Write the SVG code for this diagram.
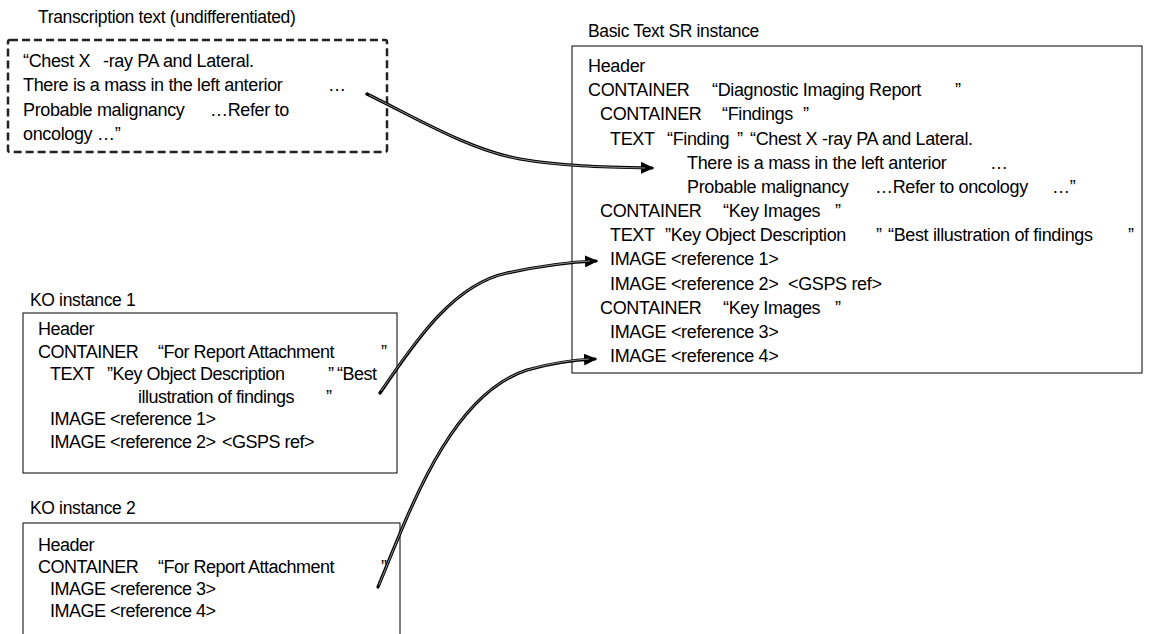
<svg xmlns="http://www.w3.org/2000/svg" width="1151" height="634" viewBox="0 0 1151 634">
  <style>
    text { font-family: "Liberation Sans", Arial, sans-serif; fill: #000; }
    .lbl { font-size: 17.5px; letter-spacing: -0.35px; }
    .big { font-size: 18px; letter-spacing: -0.35px; }
    .ko { font-size: 18px; letter-spacing: -0.5px; }
    .box { fill: #fff; stroke: #000; stroke-width: 1; }
    .dash { fill: #fff; stroke: #222; stroke-width: 2.5; stroke-dasharray: 8 4; }
    .wire { fill: none; stroke: #000; stroke-width: 3.2; stroke-linecap: round; }
    .wire-core { fill: none; stroke: #fff; stroke-width: 0.8; opacity: 0.7; }
  </style>
  <defs>
    <marker id="head" markerUnits="userSpaceOnUse" markerWidth="14" markerHeight="12" refX="11" refY="6" orient="auto">
      <path d="M0,0 L13,6 L0,12 z" fill="#000"/>
    </marker>
  </defs>
  <rect width="1151" height="634" fill="#fff"/>

  <!-- Transcription text -->
  <g id="transcription">
    <text class="lbl" x="38" y="23">Transcription text (undifferentiated)</text>
    <rect class="dash" x="8" y="40" width="379" height="112" rx="2"/>
    <text class="big" y="67"><tspan x="23">“Chest X</tspan><tspan x="103">-ray PA and Lateral.</tspan></text>
    <text class="big" y="91"><tspan x="23">There is a mass in the left anterior</tspan><tspan x="328">…</tspan></text>
    <text class="big" y="116"><tspan x="23">Probable malignancy</tspan><tspan x="210">…Refer to</tspan></text>
    <text class="big" y="140"><tspan x="23">oncology</tspan><tspan x="97">…”</tspan></text>
  </g>

  <!-- Basic Text SR instance -->
  <g id="sr-instance">
    <text class="lbl" x="588" y="37">Basic Text SR instance</text>
    <rect class="box" x="572" y="46" width="570" height="327"/>
    <text class="big" x="588" y="72">Header</text>
    <text class="big" y="96"><tspan x="588">CONTAINER</tspan><tspan x="712">“Diagnostic Imaging Report</tspan><tspan x="955">”</tspan></text>
    <text class="big" y="120"><tspan x="600">CONTAINER</tspan><tspan x="722">“Findings</tspan><tspan x="803">”</tspan></text>
    <text class="big" y="145"><tspan x="610">TEXT</tspan><tspan x="667">“Finding</tspan><tspan x="737">”</tspan><tspan x="750">“Chest X</tspan><tspan x="822">-ray PA and Lateral.</tspan></text>
    <text class="big" y="169"><tspan x="687">There is a mass in the left anterior</tspan><tspan x="990">…</tspan></text>
    <text class="big" y="193"><tspan x="687">Probable malignancy</tspan><tspan x="875">…Refer to oncology</tspan><tspan x="1052">…”</tspan></text>
    <text class="big" y="217"><tspan x="600">CONTAINER</tspan><tspan x="723">“Key Images</tspan><tspan x="835">”</tspan></text>
    <text class="big" y="241"><tspan x="610">TEXT</tspan><tspan x="665">”Key Object Description</tspan><tspan x="876">”</tspan><tspan x="888">“Best illustration of findings</tspan><tspan x="1128">”</tspan></text>
    <text class="big" x="610" y="265">IMAGE &lt;reference 1&gt;</text>
    <text class="big" y="290"><tspan x="610">IMAGE &lt;reference 2&gt;</tspan><tspan x="788">&lt;GSPS ref&gt;</tspan></text>
    <text class="big" y="314"><tspan x="600">CONTAINER</tspan><tspan x="723">“Key Images</tspan><tspan x="835">”</tspan></text>
    <text class="big" x="610" y="338">IMAGE &lt;reference 3&gt;</text>
    <text class="big" x="610" y="362">IMAGE &lt;reference 4&gt;</text>
  </g>

  <!-- Key Object instance 1 -->
  <g id="ko-instance-1">
    <text class="lbl" x="30" y="306">KO instance 1</text>
    <rect class="box" x="23" y="313" width="374" height="160"/>
    <text class="ko" x="38" y="335">Header</text>
    <text class="ko" y="357.5"><tspan x="38">CONTAINER</tspan><tspan x="158">“For Report Attachment</tspan><tspan x="381">”</tspan></text>
    <text class="ko" y="380"><tspan x="50">TEXT</tspan><tspan x="107">”Key Object Description</tspan><tspan x="328">”</tspan><tspan x="337">“Best</tspan></text>
    <text class="ko" y="402.5"><tspan x="138">illustration of findings</tspan><tspan x="326">”</tspan></text>
    <text class="ko" x="50" y="425">IMAGE &lt;reference 1&gt;</text>
    <text class="ko" y="447.5"><tspan x="50">IMAGE &lt;reference 2&gt;</tspan><tspan x="222">&lt;GSPS ref&gt;</tspan></text>
  </g>

  <!-- Key Object instance 2 -->
  <g id="ko-instance-2">
    <text class="lbl" x="30" y="514">KO instance 2</text>
    <rect class="box" x="23" y="523" width="377" height="130"/>
    <text class="ko" x="38" y="551">Header</text>
    <text class="ko" y="573"><tspan x="38">CONTAINER</tspan><tspan x="158">“For Report Attachment</tspan><tspan x="381">”</tspan></text>
    <text class="ko" x="50" y="595">IMAGE &lt;reference 3&gt;</text>
    <text class="ko" x="50" y="617">IMAGE &lt;reference 4&gt;</text>
  </g>

  <!-- Connectors -->
  <g id="connectors">
    <path class="wire" marker-end="url(#head)" d="M367,94 C420,120 470,150 520,159 C560,166 600,167 652,168"/>
    <path class="wire-core" d="M369,95 C420,120 470,150 520,159 C560,166 600,167 645,168"/>
    <path class="wire" marker-end="url(#head)" d="M380,393 C410,350 450,285 507,273 C540,266 570,262 596,261"/>
    <path class="wire-core" d="M381,391 C410,350 450,285 507,273 C540,266 570,262 590,261"/>
    <path class="wire" marker-end="url(#head)" d="M378,587 C410,510 450,395 527,370 C555,362 575,360 595,359"/>
    <path class="wire-core" d="M379,585 C410,510 450,395 527,370 C555,362 575,360 589,359"/>
  </g>
</svg>
